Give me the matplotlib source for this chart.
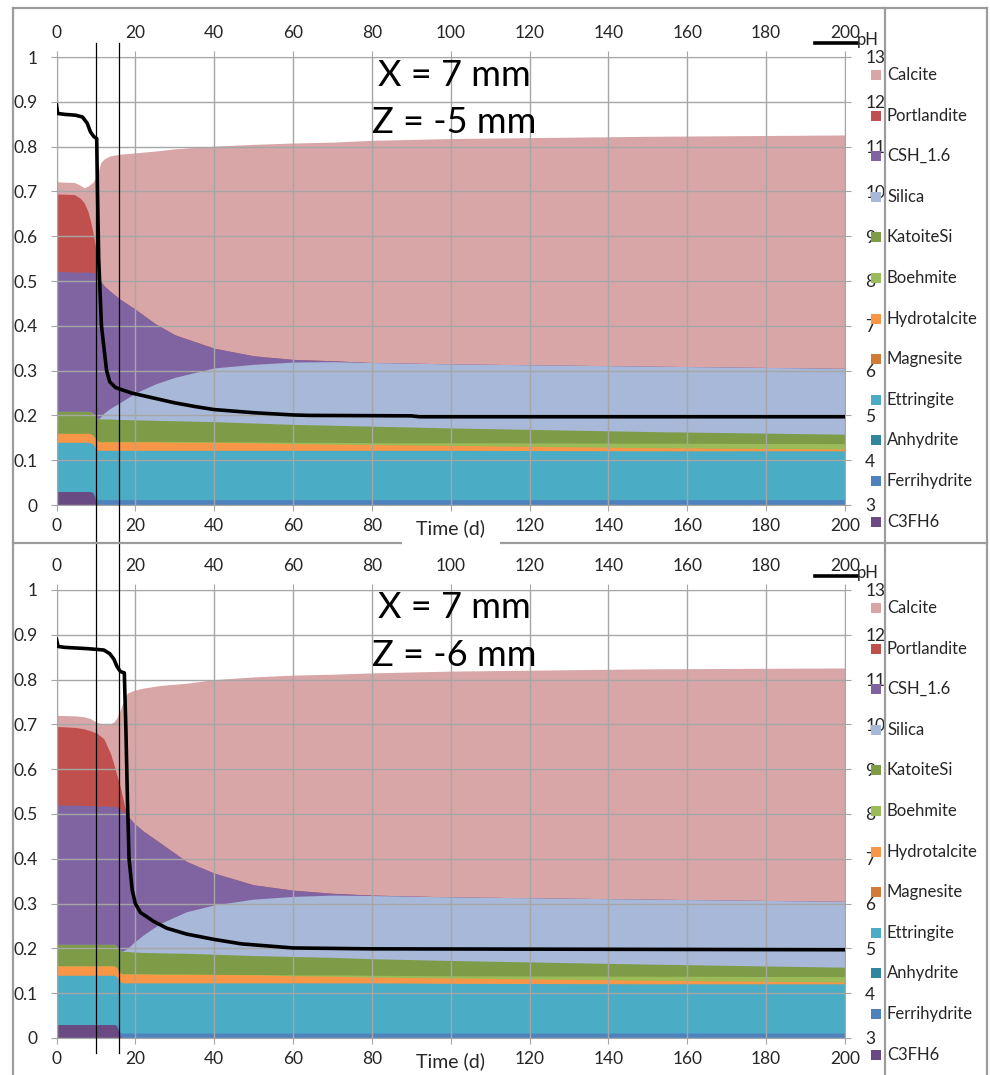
import numpy as np
import matplotlib
matplotlib.use("Agg")
import matplotlib.pyplot as plt
from matplotlib.lines import Line2D
from matplotlib.patches import Rectangle
from matplotlib.transforms import blended_transform_factory

plt.rcParams["font.family"] = ["Lato", "DejaVu Sans"]

W, H = 990, 1075

# legend order (top to bottom); Magnesite and Anhydrite never appear in the stack
phases = ["Calcite", "Portlandite", "CSH_1.6", "Silica", "KatoiteSi", "Boehmite",
          "Hydrotalcite", "Magnesite", "Ettringite", "Anhydrite", "Ferrihydrite", "C3FH6"]
colors = {
    "Calcite": "#D9A6A8", "Portlandite": "#C0504D", "CSH_1.6": "#8064A2",
    "Silica": "#A8B8D8", "KatoiteSi": "#7E9B48", "Boehmite": "#9BBB59",
    "Hydrotalcite": "#F79646", "Magnesite": "#D27A38", "Ettringite": "#4BACC6",
    "Anhydrite": "#31859C", "Ferrihydrite": "#4F81BD", "C3FH6": "#6A4A82",
}
stacked = ["Calcite", "Portlandite", "CSH_1.6", "Silica", "KatoiteSi", "Boehmite",
           "Hydrotalcite", "Ettringite", "Ferrihydrite", "C3FH6"]

# ---- panel 1: X = 7 mm, Z = -5 mm  (cumulative upper edge of each phase) ----
t_a = [0, 1, 4.5, 6, 7, 8, 8.6, 9.2, 9.7, 10.2, 10.7, 11.2, 12, 13.5, 16, 20, 25, 30,
       40, 50, 60, 70, 80, 100, 150, 200]
c3fh6_a = [.03, .03, .03, .03, .03, .03, .03, .027, .015, .003, 0, 0, 0, 0, 0, 0, 0, 0,
           0, 0, 0, 0, 0, 0, 0, 0]
ferri_a = [.03, .03, .03, .03, .03, .03, .03, .029, .022, .013, .012, .012, .012, .012, .012,
           .012, .012, .012, .012, .012, .012, .012, .012, .012, .012, .012]
ettr_a = [.14, .14, .14, .14, .14, .14, .139, .136, .13, .124, .122, .122, .122, .122, .122,
          .122, .122, .122, .122, .122, .122, .122, .122, .122, .121, .121]
hydro_a = [.16, .16, .16, .16, .16, .16, .159, .156, .15, .144, .142, .141, .141, .141, .141,
           .141, .141, .14, .14, .139, .137, .136, .135, .133, .128, .125]
boeh_a = [.16, .16, .16, .16, .16, .16, .159, .156, .15, .144, .142, .142, .142, .142, .142,
          .142, .142, .142, .141, .141, .14, .14, .139, .139, .138, .137]
katoite_a = [.209, .209, .209, .209, .209, .209, .208, .205, .2, .196, .193, .192, .192, .192,
             .191, .19, .189, .188, .186, .183, .18, .178, .176, .172, .164, .158]
silica_a = [.209, .209, .209, .209, .209, .209, .208, .205, .2, .196, .193, .197, .205, .215,
            .228, .25, .27, .285, .306, .314, .319, .32, .318, .315, .31, .305]
csh_a = [.521, .521, .52, .52, .52, .52, .52, .519, .518, .515, .508, .5, .49, .478, .46, .437,
         .405, .38, .35, .333, .325, .322, .318, .315, .31, .305]
port_a = [.694, .694, .693, .685, .675, .655, .635, .61, .585, .56, .535, .5, .49, .478, .46,
          .437, .405, .38, .35, .333, .325, .322, .318, .315, .31, .305]
calc_a = [.722, .721, .72, .714, .708, .712, .716, .72, .727, .735, .748, .764, .772, .779,
          .783, .786, .79, .795, .801, .805, .808, .81, .814, .818, .823, .826]
t_ph_a = [0, 0.3, 2, 4.9, 6.6, 7.8, 8.6, 9.5, 10.2, 10.4, 10.7, 11.4, 12.7, 13.5, 15, 19, 24,
          30, 35, 40, 50, 60, 64, 90, 92, 200]
ph_a = [11.93, 11.74, 11.72, 11.70, 11.66, 11.52, 11.33, 11.22, 11.18, 10.0, 8.5, 7.0, 6.0,
        5.75, 5.62, 5.5, 5.4, 5.28, 5.2, 5.13, 5.06, 5.01, 5.0, 4.99, 4.97, 4.97]

# ---- panel 2: X = 7 mm, Z = -6 mm ----
t_b = [0, 1, 5, 7, 8.6, 10.3, 12, 13.7, 14.6, 15.2, 15.7, 16.2, 16.7, 17.2, 18, 19.6, 22,
       26.4, 33, 40, 50, 60, 70, 80, 100, 150, 200]
c3fh6_b = [.03, .03, .03, .03, .03, .03, .03, .03, .03, .028, .015, .004, 0, 0, 0, 0, 0, 0,
           0, 0, 0, 0, 0, 0, 0, 0, 0]
ferri_b = [.03, .03, .03, .03, .03, .03, .03, .03, .03, .029, .02, .012, .011, .011, .011,
           .011, .011, .011, .011, .011, .011, .011, .011, .011, .011, .011, .011]
ettr_b = [.14, .14, .14, .14, .14, .14, .14, .14, .14, .137, .13, .125, .123, .123, .123, .123,
          .123, .123, .123, .123, .123, .123, .123, .123, .122, .121, .121]
hydro_b = [.161, .161, .161, .161, .161, .161, .161, .161, .161, .158, .15, .145, .143, .143,
           .143, .143, .143, .142, .142, .142, .141, .139, .138, .136, .134, .129, .125]
boeh_b = [.161, .161, .161, .161, .161, .161, .161, .161, .161, .158, .15, .145, .143, .143,
          .143, .143, .143, .143, .143, .142, .142, .141, .141, .14, .139, .138, .137]
katoite_b = [.209, .209, .209, .209, .209, .209, .209, .209, .209, .206, .2, .196, .194, .193,
             .193, .192, .191, .19, .189, .187, .184, .182, .18, .177, .173, .165, .158]
silica_b = [.209, .209, .209, .209, .209, .209, .209, .209, .209, .206, .2, .196, .194, .196,
            .2, .213, .23, .256, .282, .297, .31, .316, .319, .318, .315, .31, .305]
csh_b = [.52, .52, .52, .519, .519, .518, .518, .517, .517, .516, .514, .51, .506, .503, .497,
         .48, .462, .435, .394, .368, .342, .33, .323, .319, .315, .31, .305]
port_b = [.695, .695, .693, .69, .686, .68, .668, .635, .61, .59, .575, .56, .54, .52, .497,
          .48, .462, .435, .394, .368, .342, .33, .323, .319, .315, .31, .305]
calc_b = [.72, .72, .719, .717, .713, .704, .701, .701, .706, .713, .722, .733, .745, .758,
          .77, .776, .781, .787, .792, .8, .806, .81, .812, .815, .819, .824, .826]
t_ph_b = [0, 0.4, 2, 8, 12, 13.5, 14.6, 15.3, 16.2, 17.2, 17.6, 18.0, 18.4, 19.2, 20, 21.3,
          24.7, 28, 33, 40, 47, 60, 80, 200]
ph_b = [11.9, 11.74, 11.72, 11.69, 11.66, 11.58, 11.45, 11.3, 11.18, 11.15, 9.9, 8.3, 7.0,
        6.3, 6.0, 5.8, 5.6, 5.45, 5.32, 5.2, 5.1, 5.01, 4.99, 4.97]

panels = [
    dict(t=t_a, tops={"Calcite": calc_a, "Portlandite": port_a, "CSH_1.6": csh_a,
                      "Silica": silica_a, "KatoiteSi": katoite_a, "Boehmite": boeh_a,
                      "Hydrotalcite": hydro_a, "Ettringite": ettr_a,
                      "Ferrihydrite": ferri_a, "C3FH6": c3fh6_a},
         t_ph=t_ph_a, ph=ph_a, z="Z = -5 mm"),
    dict(t=t_b, tops={"Calcite": calc_b, "Portlandite": port_b, "CSH_1.6": csh_b,
                      "Silica": silica_b, "KatoiteSi": katoite_b, "Boehmite": boeh_b,
                      "Hydrotalcite": hydro_b, "Ettringite": ettr_b,
                      "Ferrihydrite": ferri_b, "C3FH6": c3fh6_b},
         t_ph=t_ph_b, ph=ph_b, z="Z = -6 mm"),
]
x_ticks = list(range(0, 201, 20))
y_ticks = [i / 10 for i in range(11)]
y_labels = ["0", "0.1", "0.2", "0.3", "0.4", "0.5", "0.6", "0.7", "0.8", "0.9", "1"]
ph_ticks = list(range(3, 14))
marker_days = [10.1, 15.8]

GRID = "#A6A6A6"
TXT = "#262626"
TICK_FS = 12.5


def fx(px):
    return px / W


def fy(py):
    return 1 - py / H


fig = plt.figure(figsize=(W / 100, H / 100), dpi=100)
axes = []
for k, p in enumerate(panels):
    off = 533 * k
    top_px, bot_px = 57 + off, 505 + off
    ax = fig.add_axes([fx(56.5), fy(bot_px), fx(845) - fx(56.5), (bot_px - top_px) / H])
    axes.append(ax)
    # draw from the outermost phase down so neighbouring areas leave no seams
    for name in stacked:
        ax.fill_between(p["t"], 0, p["tops"][name], color=colors[name], lw=0)
    ax.set_xlim(0, 200)
    ax.set_ylim(0, 1)
    ax.set_xticks(x_ticks, [("" if v == 100 else str(v)) for v in x_ticks])
    ax.set_yticks(y_ticks, y_labels)
    ax.grid(True, color=GRID, lw=1)
    ax.set_axisbelow(False)
    for s in ax.spines.values():
        s.set_color(GRID)
    ax.tick_params(direction="out", length=4.5, color=GRID, labelsize=TICK_FS,
                   labelcolor=TXT, pad=5)
    ax.tick_params(axis="y", pad=9)

    sec = ax.secondary_xaxis("top")
    sec.set_xticks(x_ticks, [str(v) for v in x_ticks])
    sec.tick_params(direction="out", length=4.5, color=GRID, labelsize=TICK_FS,
                    labelcolor=TXT, pad=7)
    sec.spines["top"].set_visible(False)

    axr = ax.twinx()
    axr.plot(p["t_ph"], p["ph"], color="black", lw=2.6, solid_joinstyle="round")
    axr.set_ylim(3, 13)
    axr.set_yticks(ph_ticks, [str(v) for v in ph_ticks])
    axr.tick_params(direction="out", length=4.5, color=GRID, labelsize=TICK_FS,
                    labelcolor=TXT, pad=10)
    for s in axr.spines.values():
        s.set_visible(False)

    # annotations
    fig.text(fx(454), fy(75 + off), "X = 7 mm", fontsize=26, ha="center", va="center",
             color="black")
    fig.text(fx(454), fy(122 + off), p["z"], fontsize=26, ha="center", va="center",
             color="black")
    fig.add_artist(Rectangle((fx(402), fy(547 + off)), fx(98), 33 / H, fc="white",
                             ec="none", zorder=4))
    fig.text(fx(450), fy(528 + off), "Time (d)", fontsize=14, ha="center", va="center",
             color=TXT, zorder=5)

    # pH legend entry and phase legend
    fig.add_artist(Line2D([fx(815), fx(857)], [fy(43 + off)] * 2, color="black", lw=2.6))
    fig.text(fx(857), fy(40 + off), "pH", fontsize=12, ha="left", va="center", color=TXT)
    for i, name in enumerate(phases):
        yc = 75 + off + 40.6 * i
        fig.add_artist(Rectangle((fx(871), fy(yc + 5)), fx(10), 10 / H,
                                 fc=colors[name], ec="none"))
        fig.text(fx(887), fy(yc), name, fontsize=12, ha="left", va="center", color=TXT)

# thin vertical markers running through both panels
tr = blended_transform_factory(axes[0].transData, fig.transFigure)
for d in marker_days:
    fig.add_artist(Line2D([d, d], [fy(43), fy(1053)], transform=tr, color="black", lw=0.9))

# outer frame and dividers
FRAME = "#9C9C9C"
for xs, ys in [([13, 13], [8, 1080]), ([987, 987], [8, 1080]), ([13, 987], [8, 8]),
               ([13, 987], [543, 543]), ([885, 885], [8, 1080])]:
    fig.add_artist(Line2D([fx(v) for v in xs], [fy(v) for v in ys], color=FRAME, lw=1.6,
                          zorder=3))

fig.savefig("out.png", dpi=100)
